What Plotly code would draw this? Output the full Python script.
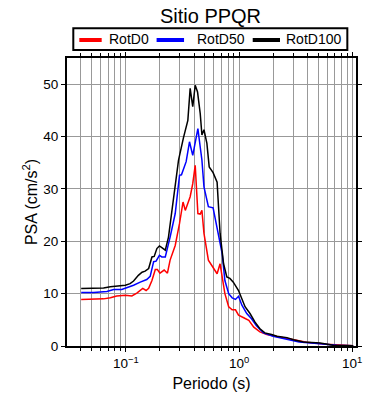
import plotly.graph_objects as go
import math

T_d100 = [0.0403, 0.052, 0.0635, 0.073, 0.086, 0.099, 0.109, 0.117, 0.129, 0.139, 0.148, 0.159, 0.170, 0.178, 0.188, 0.198, 0.208, 0.223, 0.238, 0.264, 0.292, 0.323, 0.353, 0.370, 0.390, 0.41, 0.43, 0.454, 0.47, 0.49, 0.52, 0.545, 0.59, 0.64, 0.68, 0.73, 0.78, 0.83, 0.89, 0.99, 1.06, 1.13, 1.25, 1.38, 1.53, 1.69, 1.94, 2.16, 2.65, 3.03, 3.7, 5.2, 6.8, 10.2]
psa_d100 = [10.96, 10.96, 11.1, 11.3, 11.5, 11.6, 11.9, 12.4, 13.5, 14.1, 14.3, 14.8, 17.0, 17.1, 18.6, 19.1, 18.8, 18.3, 20.8, 27.8, 35.5, 39.8, 43.1, 49.2, 45.7, 49.8, 48.5, 44.4, 40.3, 41.3, 38.7, 34.2, 33.1, 31.3, 21.5, 15.7, 13.2, 12.9, 12.2, 10.6, 9.0, 7.5, 6.2, 4.6, 3.3, 2.5, 2.2, 1.85, 1.6, 1.2, 0.76, 0.57, 0.13, 0.06]

T_d50 = [0.0403, 0.052, 0.068, 0.078, 0.092, 0.102, 0.117, 0.134, 0.153, 0.164, 0.176, 0.185, 0.198, 0.208, 0.223, 0.246, 0.273, 0.298, 0.31, 0.341, 0.365, 0.39, 0.415, 0.433, 0.454, 0.47, 0.49, 0.536, 0.59, 0.64, 0.71, 0.75, 0.81, 0.87, 0.93, 0.99, 1.06, 1.17, 1.29, 1.42, 1.64, 2.0, 2.65, 3.4, 5.2, 7.3, 10.2]
psa_d50 = [10.2, 10.2, 10.4, 10.8, 10.8, 11.1, 11.6, 12.2, 12.7, 13.3, 16.1, 16.2, 17.3, 17.0, 17.0, 20.8, 25.3, 32.6, 32.7, 35.2, 39.0, 36.4, 39.9, 41.5, 38.0, 35.5, 30.4, 26.6, 26.4, 22.7, 17.6, 12.5, 10.0, 9.2, 8.9, 9.5, 7.8, 6.2, 5.2, 3.9, 2.5, 1.85, 1.3, 0.76, 0.45, 0.13, 0.06]

T_d0 = [0.0403, 0.0635, 0.073, 0.083, 0.099, 0.113, 0.125, 0.141, 0.151, 0.159, 0.170, 0.182, 0.19, 0.2, 0.218, 0.233, 0.246, 0.273, 0.298, 0.32, 0.335, 0.37, 0.39, 0.41, 0.433, 0.454, 0.47, 0.49, 0.536, 0.59, 0.64, 0.68, 0.72, 0.75, 0.81, 0.87, 0.93, 0.99, 1.1, 1.22, 1.35, 1.53, 1.76, 2.3, 3.03, 3.95, 5.9, 10.2]
psa_d0 = [8.9, 9.0, 9.2, 9.55, 9.7, 9.55, 10.1, 11.0, 10.6, 11.0, 12.5, 14.6, 14.6, 13.9, 14.5, 13.9, 16.4, 19.2, 23.4, 27.5, 25.9, 28.5, 31.0, 34.5, 25.3, 25.2, 25.9, 21.5, 16.4, 15.1, 13.8, 15.7, 12.5, 10.0, 7.5, 6.9, 6.9, 5.9, 5.4, 4.9, 3.6, 2.7, 2.2, 1.7, 1.2, 0.7, 0.32, 0.06]

x_tickvals = [0.1, 1, 10]
x_ticktext = ["10<sup>\u22121</sup>", "10<sup>0</sup>", "10<sup>1</sup>"]

series_names = ["RotD0", "RotD50", "RotD100"]
series_colors = ["#ff0000", "#0000ff", "#000000"]
series_T = [T_d0, T_d50, T_d100]
series_psa = [psa_d0, psa_d50, psa_d100]

fig = go.Figure()
for name, t, v, c in zip(series_names, series_T, series_psa, series_colors):
    fig.add_trace(go.Scatter(x=t, y=v, mode="lines", name=name,
                             line=dict(color=c, width=1.5), showlegend=False))

# Legend drawn as a framed key above the plot (paper coordinates)
leg_line_x = [(0.0426, 0.120), (0.310, 0.405), (0.6426, 0.737)]
leg_text_x = [0.1374, 0.4429, 0.7509]
leg_y = 1.0625
fig.add_shape(type="rect", xref="paper", yref="paper", x0=0.0218, x1=0.970,
              y0=1.0278, y1=1.1031, line=dict(color="black", width=2),
              fillcolor="white", layer="above")
for name, c, (lx0, lx1), tx in zip(series_names, series_colors, leg_line_x, leg_text_x):
    fig.add_shape(type="line", xref="paper", yref="paper", x0=lx0, x1=lx1,
                  y0=leg_y, y1=leg_y, line=dict(color=c, width=4), layer="above")
    fig.add_annotation(text=name, xref="paper", yref="paper", x=tx, y=leg_y + 0.003,
                       xanchor="left", yanchor="middle", showarrow=False,
                       font=dict(size=14))

FONT = "Liberation Sans, Arial, sans-serif"
fig.update_layout(
    width=390, height=400,
    margin=dict(l=59, r=42, t=50, b=62),
    paper_bgcolor="white", plot_bgcolor="white",
    font=dict(family=FONT, color="black", size=13),
    title=dict(text="Sitio PPQR", x=202.5/390, xanchor="center", y=1 - 8/400,
               yanchor="middle", yref="container", font=dict(size=20)),
    showlegend=False,
)
fig.update_xaxes(
    type="log", range=[math.log10(0.0302), math.log10(10.8)],
    tickmode="array", tickvals=x_tickvals, ticktext=x_ticktext,
    showline=True, linecolor="black", linewidth=2, mirror="allticks",
    ticks="outside", ticklen=4, tickcolor="black", tickfont=dict(size=13.5),
    showgrid=True, gridcolor="#999999", gridwidth=1,
    minor=dict(dtick="D1", ticks="outside", ticklen=3, tickcolor="black",
               showgrid=True, gridcolor="#999999", gridwidth=1),
    title=dict(text="Periodo (s)", font=dict(size=16), standoff=8),
    zeroline=False, automargin=False,
)
fig.update_yaxes(
    range=[0, 55], dtick=10,
    showline=True, linecolor="black", linewidth=2, mirror="allticks",
    ticks="outside", ticklen=4, tickcolor="black", tickfont=dict(size=13.5),
    showgrid=True, gridcolor="#999999", gridwidth=1,
    title=dict(text="PSA (cm/s<sup>2</sup>)", font=dict(size=16), standoff=2),
    zeroline=False, automargin=False,
)
fig.write_html("out.html")
